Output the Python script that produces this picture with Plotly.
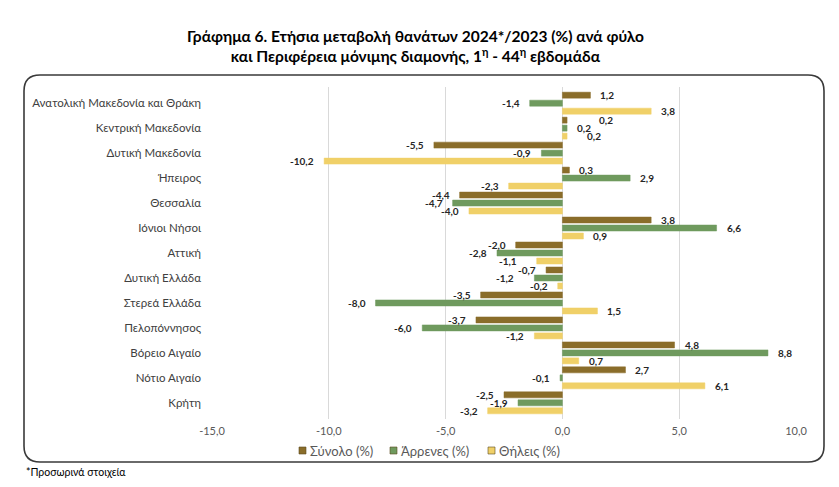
import plotly.graph_objects as go

regions = [
    "Ανατολική Μακεδονία και Θράκη",
    "Κεντρική Μακεδονία",
    "Δυτική Μακεδονία",
    "Ήπειρος",
    "Θεσσαλία",
    "Ιόνιοι Νήσοι",
    "Αττική",
    "Δυτική Ελλάδα",
    "Στερεά Ελλάδα",
    "Πελοπόννησος",
    "Βόρειο Αιγαίο",
    "Νότιο Αιγαίο",
    "Κρήτη",
]
total = [1.2, 0.2, -5.5, 0.3, -4.4, 3.8, -2.0, -0.7, -3.5, -3.7, 4.8, 2.7, -2.5]
males = [-1.4, 0.2, -0.9, 2.9, -4.7, 6.6, -2.8, -1.2, -8.0, -6.0, 8.8, -0.1, -1.9]
females = [3.8, 0.2, -10.2, -2.3, -4.0, 0.9, -1.1, -0.2, 1.5, -1.2, 0.7, 6.1, -3.2]
x_ticks = [-15, -10, -5, 0, 5, 10]

series = [
    ("Σύνολο (%)", total, "#8a6d2a"),
    ("Άρρενες (%)", males, "#6f9a5e"),
    ("Θήλεις (%)", females, "#f0d068"),
]

# the page body has an 8px margin, so work in window pixels and subtract it
OFF = 8
W, H = 839 - 2 * OFF, 487 - 2 * OFF
L, R, T, B = 212 - OFF, 839 - 796 - OFF, 87 - OFF, 487 - 419 - OFF
PW, PH = W - L - R, H - T - B
FONT = "Lato, 'Open Sans', sans-serif"


def px_x(p):
    return (p - OFF - L) / PW


def px_y(p):
    return (H - B - (p - OFF)) / PH


def comma(v):
    return f"{v:.1f}".replace(".", ",")


# extra nudges (px) where excel moved the labels apart
nudge = {
    (0, "Κεντρική Μακεδονία"): 22,
    (2, "Κεντρική Μακεδονία"): 10,
    (2, "Αττική"): -10,
    (1, "Δυτική Ελλάδα"): -10,
}

fig = go.Figure()
for name, vals, col in series:
    fig.add_trace(go.Bar(
        y=regions,
        x=vals,
        name=name,
        orientation="h",
        marker=dict(color=col, line=dict(color=col, width=0.5)),
        showlegend=False,
    ))

# value labels, a bit off the bar end like excel does
slot = PH / len(regions) * 0.96 / 3
for i, (name, vals, col) in enumerate(series):
    for reg, v in zip(regions, vals):
        fig.add_annotation(
            x=v, y=reg, text=f"<b>{comma(v)}</b>", showarrow=False,
            xanchor="left" if v >= 0 else "right",
            xshift=(8 if v >= 0 else -8) + nudge.get((i, reg), 0),
            yshift=(1 - i) * slot,
            font=dict(family=FONT, size=10, color="#262626"),
        )

# compact excel-style legend: small square + name
legend_x = [299, 390, 488]
for (name, vals, col), lx in zip(series, legend_x):
    fig.add_shape(type="rect", xref="paper", yref="paper",
                  x0=px_x(lx), x1=px_x(lx + 7), y0=px_y(454), y1=px_y(447),
                  fillcolor=col, line=dict(color="#5a4a20", width=0.6))
    fig.add_annotation(x=px_x(lx + 9), y=px_y(450.5), xref="paper", yref="paper",
                       text=name, showarrow=False, xanchor="left", yanchor="middle",
                       font=dict(family=FONT, size=13, color="#595959"))

# rounded chart frame
x0, x1, y0, y1, r = 24, 824, 75, 462, 16
path = (
    f"M {px_x(x0 + r)},{px_y(y0)} L {px_x(x1 - r)},{px_y(y0)} "
    f"Q {px_x(x1)},{px_y(y0)} {px_x(x1)},{px_y(y0 + r)} "
    f"L {px_x(x1)},{px_y(y1 - r)} Q {px_x(x1)},{px_y(y1)} {px_x(x1 - r)},{px_y(y1)} "
    f"L {px_x(x0 + r)},{px_y(y1)} Q {px_x(x0)},{px_y(y1)} {px_x(x0)},{px_y(y1 - r)} "
    f"L {px_x(x0)},{px_y(y0 + r)} Q {px_x(x0)},{px_y(y0)} {px_x(x0 + r)},{px_y(y0)} Z"
)
fig.add_shape(type="path", path=path, xref="paper", yref="paper",
              line=dict(color="#3a3a3a", width=1.6), layer="below")

fig.add_annotation(
    x=px_x(415), y=px_y(46), xref="paper", yref="paper", showarrow=False,
    xanchor="center", yanchor="middle",
    text="<b>Γράφημα 6. Ετήσια μεταβολή θανάτων 2024*/2023 (%) ανά φύλο<br>"
         "και Περιφέρεια μόνιμης διαμονής, 1<sup>η</sup> - 44<sup>η</sup> εβδομάδα</b>",
    font=dict(family=FONT, size=15.5, color="#000000"), align="center",
)
fig.add_annotation(
    x=px_x(24), y=px_y(472), xref="paper", yref="paper", showarrow=False,
    xanchor="left", yanchor="middle", text="*Προσωρινά στοιχεία",
    font=dict(family=FONT, size=10.5, color="#000000"),
)

fig.update_layout(
    width=W, height=H,
    margin=dict(l=L, r=R, t=T, b=B, autoexpand=False),
    paper_bgcolor="white", plot_bgcolor="white",
    barmode="group", bargap=0.04, bargroupgap=0.25,
    font=dict(family=FONT, size=11, color="#595959"),
    showlegend=False,
    xaxis=dict(range=[-15, 10], tickvals=x_ticks,
               ticktext=[comma(v) for v in x_ticks],
               showgrid=True, gridcolor="#d9d9d9", zeroline=True,
               zerolinecolor="#d9d9d9", zerolinewidth=1, showline=False,
               tickfont=dict(size=11, color="#595959"), ticklabelstandoff=4),
    yaxis=dict(autorange="reversed", showgrid=False, showline=False,
               ticks="", tickfont=dict(size=11.5, color="#404040"),
               ticklabelstandoff=10),
)

fig.write_html("out.html")
